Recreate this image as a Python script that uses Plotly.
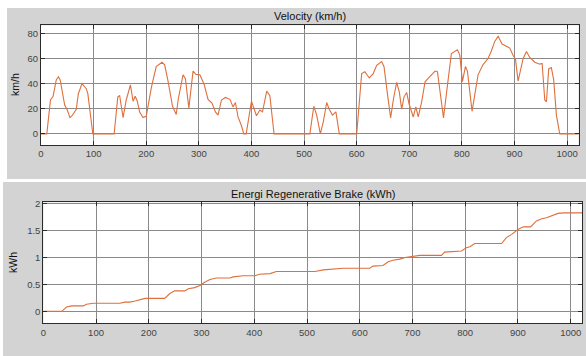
import plotly.graph_objects as go

# ---------------- data ----------------
vel_t = [0, 11, 18, 23, 29, 33, 36.5, 45, 50, 55, 59, 67, 71, 78, 86, 89, 98.5, 139,
         146, 149.5, 156, 162, 170, 175, 179, 183, 187.5, 194, 200, 210, 219, 230, 235,
         241, 250, 257, 261, 270, 274.5, 281, 289, 294, 302, 310, 317.5, 325, 331.5,
         336.5, 343, 350.5, 359, 365, 369.5, 374.5, 381, 385.5, 390, 395.5, 400, 409.5,
         416, 421, 429, 435, 443, 511, 518.5, 524, 531, 536.5, 543, 548, 554, 560.5, 567,
         600, 609.5, 615.5, 624, 631.5, 638, 647.5, 652, 658, 664.5, 670, 676, 681, 685.5,
         690, 695, 699.5, 702.5, 707.5, 712.5, 717, 723.5, 730, 739, 749, 753.5, 760, 765,
         771, 777.5, 780, 791.5, 796, 801, 806.7, 810.5, 819.3, 830.7, 840, 849.7, 856,
         862.4, 868.8, 876.4, 884.6, 891, 897.3, 901.8, 906.8, 916.4, 922.7, 929, 938.5,
         948, 952.5, 957.5, 960.7, 965, 970, 974.5, 979.6, 986, 1022]
vel_v = [0, 0, 27, 30, 43, 45.5, 43, 23, 19, 13, 14.5, 19.5, 32, 40, 36, 32, 0, 0,
         29.5, 30.5, 13, 27, 39, 26, 30, 26, 17.5, 13, 14, 37.5, 53.5, 57, 55,
         43, 22, 15.5, 28, 47, 44, 20.5, 50, 47.5, 47, 39.5, 27.5, 24.5, 17.5,
         15, 27, 29, 27.5, 21.5, 25, 13.5, 6.5, 0, 0, 15, 26, 14.5,
         19, 17.5, 34, 30.5, 0, 0, 22, 15, 0, 9.5, 25, 19.5, 15, 17.5, 0,
         0, 48, 49.5, 44.5, 48, 54.5, 57.5, 53.5, 33.5, 12.8, 28, 41, 33.5, 19.7,
         29.5, 33, 24, 19.7, 13.5, 21.5, 13.5, 25.5, 41.5, 45.5, 50, 49.5, 29.5, 12.8,
         33.5, 59, 64, 67, 62.7, 41.6, 53.6, 50, 18, 47, 55, 60, 66,
         73.6, 77.6, 71.5, 69.6, 68.3, 62.4, 59.7, 42, 60, 65.6, 60.8, 57,
         55.5, 56, 27, 25.6, 51.7, 52.8, 43, 15, 0, 0]

en_t = [0, 35, 44, 54, 76, 82, 95, 145, 155, 164, 174, 183, 193, 230, 240, 249, 268,
        275, 287, 297, 306, 316, 328, 354, 360, 379, 401, 410, 430, 442, 515, 531, 550,
        569, 619, 625, 644, 654, 663, 676, 686, 701, 714, 755, 761, 793, 802, 809, 818,
        869, 878, 888, 900, 910, 924, 935, 945, 954, 964, 976, 986, 1022]
en_v = [0, 0, 0.08, 0.1, 0.1, 0.13, 0.15, 0.15, 0.17, 0.17, 0.19, 0.22, 0.24, 0.24,
        0.33, 0.38, 0.38, 0.42, 0.44, 0.48, 0.54, 0.59, 0.62, 0.62, 0.64, 0.66, 0.66,
        0.69, 0.7, 0.74, 0.74, 0.77, 0.79, 0.8, 0.8, 0.84, 0.85, 0.92, 0.95, 0.97, 1.0,
        1.02, 1.04, 1.04, 1.1, 1.12, 1.18, 1.2, 1.26, 1.26, 1.37, 1.43, 1.52, 1.57,
        1.57, 1.68, 1.72, 1.74, 1.77, 1.82, 1.83, 1.83]

x_ticks = [0, 100, 200, 300, 400, 500, 600, 700, 800, 900, 1000]
vel_ticks = [0, 20, 40, 60, 80]
en_ticks = [0, 0.5, 1, 1.5, 2]
en_ticklabels = ["0", "0.5", "1", "1.5", "2"]

# ---------------- figure ----------------
W, H = 586, 356
LINE = "#df6f3c"
GRID = "#8a8a8a"
AX = "#2b2b2b"
PANEL = "#d3d3d3"
FONT = "Liberation Sans, Arial, sans-serif"


def px_x(p):
    return p / W


def px_y(p):
    return 1 - p / H


TOP = dict(x0=41, x1=578.7, y0=25.3, y1=145)
BOT = dict(x0=43.3, x1=582.3, y0=202.3, y1=323.3)

fig = go.Figure()
fig.add_trace(go.Scatter(x=vel_t, y=vel_v, mode="lines", xaxis="x", yaxis="y",
                         line=dict(color=LINE, width=1.1), showlegend=False))
fig.add_trace(go.Scatter(x=en_t, y=en_v, mode="lines", xaxis="x2", yaxis="y2",
                         line=dict(color=LINE, width=1.1), showlegend=False))

common = dict(showline=True, linecolor=AX, linewidth=1, mirror="ticks",
              ticks="inside", ticklen=4, tickcolor=AX, showgrid=True,
              gridcolor=GRID, gridwidth=1, zeroline=False, automargin=False,
              tickfont=dict(family=FONT, size=9.5, color="#444444"))


def rect(b, color):
    return dict(type="rect", xref="paper", yref="paper", layer="below",
                x0=px_x(b["x0"]), x1=px_x(b["x1"]), y0=px_y(b["y1"]), y1=px_y(b["y0"]),
                fillcolor=color, line=dict(width=0))


def label(text, x, y, size, angle=0):
    return dict(text=text, xref="paper", yref="paper", x=px_x(x), y=px_y(y),
                xanchor="center", yanchor="middle", showarrow=False, textangle=angle,
                font=dict(family=FONT, size=size, color="#111111"))


fig.update_layout(
    template="none",
    width=W, height=H,
    margin=dict(l=0, r=0, t=0, b=0, pad=0),
    paper_bgcolor="white", plot_bgcolor="white",
    xaxis=dict(domain=[px_x(TOP["x0"]), px_x(TOP["x1"])], range=[0, 1022], anchor="y",
               tickvals=x_ticks, **common),
    yaxis=dict(domain=[px_y(TOP["y1"]), px_y(TOP["y0"])], range=[-8.8, 86.4], anchor="x",
               tickvals=vel_ticks, **common),
    xaxis2=dict(domain=[px_x(BOT["x0"]), px_x(BOT["x1"])], range=[0, 1022], anchor="y2",
                tickvals=x_ticks, **common),
    yaxis2=dict(domain=[px_y(BOT["y1"]), px_y(BOT["y0"])], range=[-0.223, 2.026], anchor="x2",
                tickvals=en_ticks, ticktext=en_ticklabels, **common),
    shapes=[
        dict(type="rect", xref="paper", yref="paper", layer="below",
             x0=px_x(7), x1=1, y0=px_y(179), y1=px_y(8),
             fillcolor=PANEL, line=dict(width=0)),
        dict(type="rect", xref="paper", yref="paper", layer="below",
             x0=px_x(3), x1=1, y0=0, y1=px_y(182),
             fillcolor=PANEL, line=dict(width=0)),
        rect(TOP, "white"),
        rect(BOT, "white"),
    ],
    annotations=[
        label("Velocity (km/h)", 310, 16, 11),
        label("Energi Regenerative Brake (kWh)", 313, 194, 11),
        label("km/h", 15, 85, 10.5, -90),
        label("kWh", 13, 263, 10.5, -90),
    ],
)

fig.write_html("out.html", config={"displayModeBar": False},
               post_script="document.body.style.margin='0px';")
